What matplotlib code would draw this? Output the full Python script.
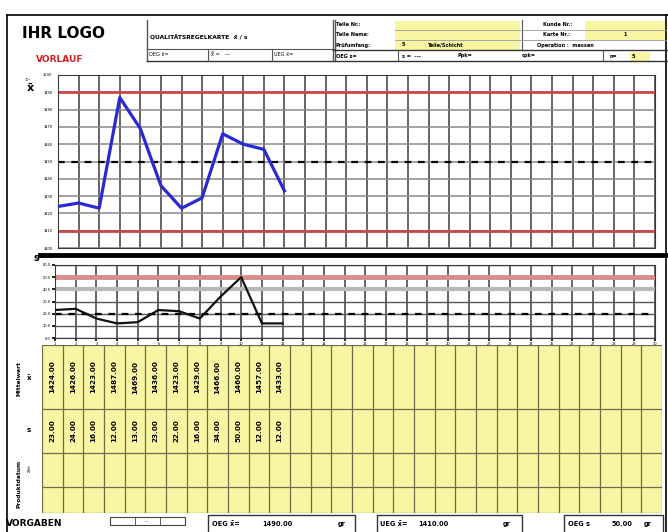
import matplotlib.pyplot as plt
import numpy as np

W, H = 668, 532

# sample data (x-bar / s control chart)
samples = list(range(1, 13))
xbar = [1424.0, 1426.0, 1423.0, 1487.0, 1469.0, 1436.0, 1423.0, 1429.0, 1466.0, 1460.0, 1457.0, 1433.0]
s_vals = [23.0, 24.0, 16.0, 12.0, 13.0, 23.0, 22.0, 16.0, 34.0, 50.0, 12.0, 12.0]

n_cols = 30
xbar_ticks = list(range(1400, 1501, 10))
s_ticks = list(range(0, 61, 10))

oeg_x, ueg_x, mid_x = 1490.0, 1410.0, 1450.0
oeg_s, warn_s, mid_s = 50.0, 40.0, 20.0

YELLOW = "#f8f6a2"
GRID_V = "#3a3a3a"
GRID_H = "#8a8a8a"
RED = "#c84848"


def px_axes(fig, x0, y0, x1, y1, **kw):
    return fig.add_axes([x0 / W, 1 - y1 / H, (x1 - x0) / W, (y1 - y0) / H], **kw)


fig = plt.figure(figsize=(W / 100, H / 100), dpi=100)

# overlay in pixel coordinates for the form layout
ov = px_axes(fig, 0, 0, W, H)
ov.set_xlim(0, W)
ov.set_ylim(H, 0)
ov.axis("off")

k = dict(color="black", lw=1.2)
ov.plot([7, 668], [15, 15], **k)
ov.plot([7, 7], [15, 532], **k)
ov.plot([666, 666], [15, 532], **k)

ov.text(22, 34, "IHR LOGO", fontsize=11, fontweight="bold", va="center")
ov.text(36, 59, "VORLAUF", fontsize=6.5, fontweight="bold", color="#d02020", va="center")

# left header box
ov.plot([147, 147], [20, 61], color="#555", lw=1)
ov.plot([335, 335], [20, 61], color="#555", lw=1)
ov.plot([147, 335], [49, 49], color="#555", lw=0.8)
ov.plot([147, 668], [61, 61], color="#333", lw=1)
ov.plot([208, 208], [49, 61], color="#555", lw=0.8)
ov.plot([272, 272], [49, 61], color="#555", lw=0.8)
ov.text(150, 38, "QUALITÄTSREGELKARTE  x̄ / s", fontsize=4.3, fontweight="bold", va="center")
ov.text(149, 55, "OEG x̄=", fontsize=3.6, va="center")
ov.text(211, 55, "x̿ =   ---", fontsize=3.6, va="center")
ov.text(274, 55, "UEG x̄=", fontsize=3.6, va="center")

# right header box
for y0, y1 in [(21, 30), (30, 40), (41, 50)]:
    ov.add_patch(plt.Rectangle((395, y0), 125, y1 - y0, color=YELLOW, lw=0))
for y0, y1 in [(21, 30), (30, 40)]:
    ov.add_patch(plt.Rectangle((585, y0), 80, y1 - y0, color=YELLOW, lw=0))
ov.add_patch(plt.Rectangle((630, 52), 20, 9, color=YELLOW, lw=0))
ov.plot([333, 333], [20, 61], color="#555", lw=1)
ov.plot([522, 522], [20, 50], color="#555", lw=0.8)
for y in (30, 40):
    ov.plot([395, 666], [y, y], color="#999", lw=0.6)
ov.plot([333, 668], [50, 50], color="#333", lw=1)
ov.plot([398, 398], [50, 61], color="#555", lw=0.8)
ov.plot([603, 603], [50, 61], color="#555", lw=0.8)
hs = dict(fontsize=3.6, va="center", fontweight="bold")
ov.text(336, 25, "Teile Nr.:", **hs)
ov.text(336, 35, "Teile Name:", **hs)
ov.text(336, 45, "Prüfumfang:", **hs)
ov.text(402, 45, "5", **hs)
ov.text(428, 45, "Teile/Schicht", **hs)
ov.text(543, 25, "Kunde Nr.:", **hs)
ov.text(543, 35, "Karte Nr.:", **hs)
ov.text(623, 35, "1", **hs)
ov.text(537, 45, "Operation :  messen", **hs)
ov.text(336, 56, "OEG s=", **hs)
ov.text(402, 56, "s =  ---", **hs)
ov.text(458, 56, "Ppk=", **hs)
ov.text(522, 56, "cpk=", **hs)
ov.text(610, 56, "n=", **hs)
ov.text(632, 56, "5", **hs)

# thick separator between charts
ov.plot([40, 668], [255, 255], color="black", lw=3.5)

# axis symbols
ov.text(30, 88, "x̄", fontsize=8, fontweight="bold", ha="center", va="center")
ov.text(28, 80, "10³", fontsize=2.5, ha="center", va="center")
ov.text(36, 258, "s", fontsize=7, fontweight="bold", ha="center", va="center")

# x-bar chart
ax1 = px_axes(fig, 58, 75, 655, 248)
ax1.set_xlim(1, n_cols)
ax1.set_ylim(xbar_ticks[0], xbar_ticks[-1])
for x in range(1, n_cols + 1):
    ax1.axvline(x, color=GRID_V, lw=1.1, zorder=1)
for y in xbar_ticks:
    ax1.axhline(y, color=GRID_H, lw=1.1, zorder=1)
ax1.axhline(oeg_x, color=RED, lw=2, zorder=2)
ax1.axhline(ueg_x, color=RED, lw=2, zorder=2)
ax1.axhline(mid_x, color="black", lw=1.6, dashes=(3, 3), zorder=2)
ax1.plot(samples, xbar, color="#2a2ad2", lw=2.3, zorder=3)
ax1.set_xticks([])
ax1.set_yticks(xbar_ticks)
ax1.set_yticklabels([str(v) for v in xbar_ticks])
ax1.tick_params(axis="y", labelsize=2.6, length=0, pad=4)
for sp in ax1.spines.values():
    sp.set_color(GRID_V)

# s chart
ax2 = px_axes(fig, 55, 265, 655, 338)
ax2.set_xlim(1, n_cols)
ax2.set_ylim(s_ticks[0], s_ticks[-1])
for x in range(1, n_cols + 1):
    ax2.axvline(x, color=GRID_V, lw=1.1, zorder=1)
for y in s_ticks:
    ax2.axhline(y, color="#555", lw=1.0, zorder=1)
ax2.axhline(oeg_s, color="#d98c8c", lw=3.5, zorder=2)
ax2.axhline(warn_s, color="#b8b8b8", lw=3, zorder=2)
ax2.axhline(mid_s, color="black", lw=1.6, dashes=(3, 3), zorder=2)
ax2.plot(samples, s_vals, color="#111", lw=1.6, zorder=3)
ax2.set_xticks(range(1, n_cols + 1))
ax2.set_xticklabels([str(v) for v in range(1, n_cols + 1)])
ax2.set_yticks(s_ticks)
ax2.set_yticklabels([f"{v:.1f}" for v in s_ticks])
ax2.tick_params(labelsize=2.6, length=2, width=1.2, pad=1)
for sp in ax2.spines.values():
    sp.set_color(GRID_V)

# value table
row_edges = [0, 64, 108, 142, 168]
ax3 = px_axes(fig, 42, 345, 662, 513)
ax3.set_xlim(0, n_cols)
ax3.set_ylim(row_edges[-1], 0)
ax3.set_facecolor(YELLOW)
for x in range(n_cols + 1):
    ax3.axvline(x, color="#6e6e4a", lw=0.9)
for y in row_edges:
    ax3.axhline(y, color="#6e6e4a", lw=0.9)
for i, (m, s) in enumerate(zip(xbar, s_vals)):
    ax3.text(i + 0.5, (row_edges[0] + row_edges[1]) / 2, f"{m:.2f}", rotation=90,
             fontsize=5.2, fontweight="bold", ha="center", va="center")
    ax3.text(i + 0.5, (row_edges[1] + row_edges[2]) / 2, f"{s:.2f}", rotation=90,
             fontsize=5.2, fontweight="bold", ha="center", va="center")
ax3.set_xticks([])
ax3.set_yticks([])
for sp in ax3.spines.values():
    sp.set_visible(False)

ov.text(19, 378, "Mittelwert", rotation=90, fontsize=4.2, fontweight="bold", ha="center", va="center")
ov.text(29, 378, "x̄", fontsize=5, fontweight="bold", ha="center", va="center")
ov.text(29, 430, "s", fontsize=5, fontweight="bold", ha="center", va="center")
ov.text(19, 484, "Produktdatum", rotation=90, fontsize=4.2, fontweight="bold", ha="center", va="center")
ov.text(30, 468, "Zeit", rotation=90, fontsize=3, ha="center", va="center")

# bottom specification row
ov.text(6, 523, "VORGABEN", fontsize=6.5, fontweight="bold", va="center")
ov.add_patch(plt.Rectangle((110, 517), 75, 8, fill=False, ec="#444", lw=0.8))
ov.plot([135, 135], [517, 525], color="#444", lw=0.6)
ov.plot([160, 160], [517, 525], color="#444", lw=0.6)
ov.text(147, 521, "---", fontsize=3, ha="center", va="center")
for x0, x1 in [(208, 355), (377, 522), (564, 663)]:
    ov.plot([x0, x0, x1, x1], [532, 515, 515, 532], color="#333", lw=1)
bt = dict(fontsize=4.8, va="center", fontweight="bold")
ov.text(212, 524, "OEG x̄=", **bt)
ov.text(262, 524, f"{oeg_x:.2f}", **bt)
ov.text(338, 524, "gr", **bt)
ov.text(380, 524, "UEG x̄=", **bt)
ov.text(418, 524, f"{ueg_x:.2f}", **bt)
ov.text(503, 524, "gr", **bt)
ov.text(568, 524, "OEG s", **bt)
ov.text(612, 524, f"{oeg_s:.2f}", **bt)
ov.text(644, 524, "gr", **bt)

fig.savefig("out.png", dpi=100)
